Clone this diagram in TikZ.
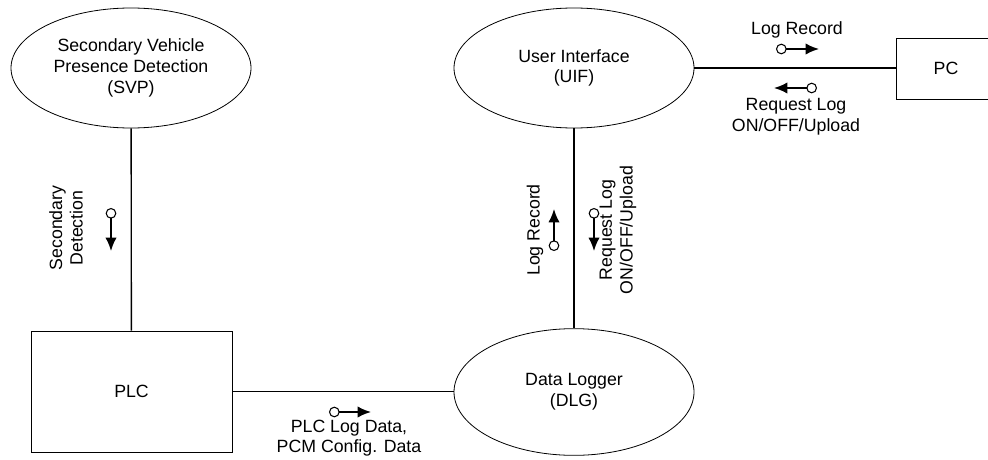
\documentclass[tikz,border=0pt]{standalone}
\usepackage{fontspec}
\setmainfont{Liberation Sans}
\usetikzlibrary{shapes.geometric,arrows.meta}

\def\rx{180pt}
\def\ry{90pt}

\begin{document}
\begin{tikzpicture}[x=0.75pt,y=-0.75pt,
	font=\fontsize{13.3}{15.5}\selectfont,
	proc/.style={draw,ellipse,line width=0.6pt,minimum width=\rx,minimum height=\ry,inner sep=0pt,align=center},
	term/.style={draw,rectangle,line width=0.6pt,inner sep=0pt,align=center},
	link/.style={line width=1pt},
	flow/.style={{Circle[open,length=8pt,width=8pt,line width=0.8pt]}-{Latex[length=10pt,width=8.5pt]},line width=1.3pt},
	flowtext/.style={align=center,inner sep=0pt}]

\useasboundingbox (0,0) rectangle (988,460);

% processes and terminators
\node[proc] (svp) at (131,68) {Secondary Vehicle\\Presence Detection\\(SVP)};
\node[proc] (uif) at (574,68) {User Interface\\(UIF)};
\node[proc,minimum height=95pt] (dlg) at (574,392) {Data Logger\\(DLG)};
\node[term,minimum width=150.75pt,minimum height=90.75pt] (plc) at (131.5,391.5) {PLC};
\node[term,minimum width=75pt,minimum height=45.75pt] (pc) at (946,68.5) {PC};

% connectors
\draw[link] (svp) -- (plc);
\draw[link] (plc.east) -- (plc.east -| dlg.west);
\draw[link] (uif) -- (dlg);
\draw[link] (uif.east) -- (uif.east -| pc.west);

% flows SVP -> PLC
\coordinate (sdA) at (111,208);
\coordinate (sdB) at (111,251);
\draw[flow] (sdA) -- (sdB);
\node[flowtext,rotate=90] (sdlbl) at (66,228) {Secondary\\Detection};

% flows UIF <-> DLG
\coordinate (lrA) at (554,251);
\coordinate (lrB) at (554,209);
\draw[flow] (lrA) -- (lrB);
\node[flowtext,rotate=90] (lrlbl) at (535,230) {Log Record};
\coordinate (rqA) at (594,208);
\coordinate (rqB) at (594,251);
\draw[flow] (rqA) -- (rqB);
\node[flowtext,rotate=90] (rqlbl) at (618,230) {Request Log\\ON/OFF/Upload};

% flows UIF <-> PC
\coordinate (pcA) at (776,49);
\coordinate (pcB) at (819,49);
\draw[flow] (pcA) -- (pcB);
\node[flowtext] (pclbl) at (797,30) {Log Record};
\coordinate (upA) at (817,88);
\coordinate (upB) at (774,88);
\draw[flow] (upA) -- (upB);
\node[flowtext] (uplbl) at (796,117) {Request Log\\ON/OFF/Upload};

% flow PLC -> DLG
\coordinate (ldA) at (329,412);
\coordinate (ldB) at (371,412);
\draw[flow] (ldA) -- (ldB);
\node[flowtext] (ldlbl) at (349,438) {PLC Log Data,\\PCM Config. Data};

\end{tikzpicture}
\end{document}
